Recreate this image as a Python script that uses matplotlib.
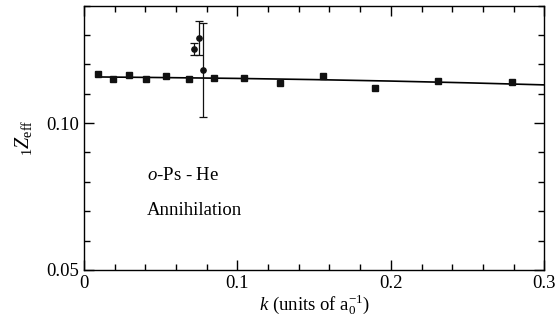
import numpy as np
import matplotlib
matplotlib.use('Agg')
import matplotlib.pyplot as plt
from matplotlib.ticker import MultipleLocator

plt.rcParams['font.family'] = ['Liberation Serif', 'DejaVu Serif']
plt.rcParams['mathtext.fontset'] = 'custom'
plt.rcParams['mathtext.rm'] = 'Liberation Serif'
plt.rcParams['mathtext.it'] = 'Liberation Serif:italic'

# squares (computed points)
k_sq = [0.0094, 0.019, 0.0296, 0.0405, 0.0537, 0.0682, 0.0849, 0.1046, 0.1279, 0.1559, 0.1899, 0.2306, 0.2792]
z_sq = [0.1168, 0.1151, 0.1165, 0.1151, 0.1161, 0.1151, 0.1154, 0.1154, 0.1138, 0.1161, 0.1120, 0.1142, 0.1140]

# circles with error bars
k_pt = [0.0719, 0.0752, 0.0779]
z_pt = [0.1251, 0.1291, 0.1181]
z_err = [0.0020, 0.0058, 0.0159]

# fitted curve
k_line = [0.0094, 0.05, 0.10, 0.15, 0.20, 0.25, 0.30]
z_line = [0.1157, 0.1155, 0.1152, 0.1148, 0.1143, 0.1137, 0.1130]

xticks = [0, 0.1, 0.2, 0.3]
xtick_labels = ['0', '0.1', '0.2', '0.3']
yticks = [0.05, 0.10]
ytick_labels = ['0.05', '0.10']

fig = plt.figure(figsize=(5.56, 3.28), dpi=100)
ax = fig.add_axes([0.151, 0.177, 0.828, 0.806])

ax.plot(k_line, z_line, color='black', lw=1.2)
ax.plot(k_sq, z_sq, 's', color='#111111', ms=4.6)
ax.errorbar(k_pt, z_pt, yerr=z_err, fmt='o', color='#111111', ms=3.8,
            elinewidth=0.9, capsize=3, capthick=0.9)

ax.set_xlim(0, 0.3)
ax.set_ylim(0.05, 0.14)
ax.xaxis.set_minor_locator(MultipleLocator(0.02))
ax.yaxis.set_minor_locator(MultipleLocator(0.01))
ax.set_xticks(xticks, xtick_labels)
ax.set_yticks(yticks, ytick_labels)
ax.tick_params(which='both', direction='in', top=True, right=True, width=1.0, labelsize=13.5)
ax.tick_params(which='major', length=7.5)
ax.tick_params(which='minor', length=4)
for s in ax.spines.values():
    s.set_linewidth(1.0)

ax.set_xlabel(r'$k$ (units of a$_0^{\mathrm{-1}}$)', fontsize=13.5, labelpad=1)
ax.set_ylabel(r'${}_1\mathit{Z}_{\mathrm{eff}}$', fontsize=14.5, labelpad=9)

ax.text(0.041, 0.0823, r'$o$-Ps - He', fontsize=13.5, va='center')
ax.text(0.041, 0.0703, 'Annihilation', fontsize=13.5, va='center')

fig.savefig('out.png', dpi=100)
